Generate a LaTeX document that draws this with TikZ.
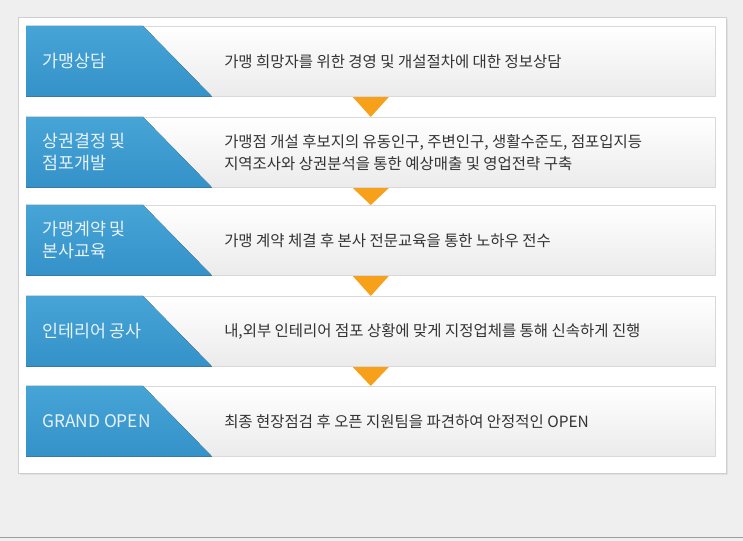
\documentclass[tikz,border=0pt]{standalone}
\usepackage{fontspec}
\setmainfont{Noto Sans CJK KR}
\usetikzlibrary{calc}

\definecolor{pagegray}{HTML}{EFEFEF}
\definecolor{panelline}{HTML}{CFCFCF}
\definecolor{rowline}{HTML}{D9D9D9}
\definecolor{rowgray}{HTML}{EBEBEB}
\definecolor{tabtop}{HTML}{46A4D6}
\definecolor{tabbottom}{HTML}{3592C9}
\definecolor{tabtext}{HTML}{E8F2F9}
\definecolor{desctext}{HTML}{333333}
\definecolor{steporange}{HTML}{F7A11B}

\tikzset{
  rowbox/.style={draw=rowline, top color=white, bottom color=rowgray,
    minimum width=516.75pt, minimum height=52.5pt, inner sep=0pt, anchor=north west},
  tabfill/.style={top color=tabtop, bottom color=tabbottom, draw=none},
  tablabel/.style={anchor=west, inner sep=0pt, align=left, text=tabtext,
    font=\fontsize{13}{16.5}\selectfont},
  desc/.style={anchor=west, inner sep=0pt, align=left, text=desctext,
    font=\fontsize{11.6}{16.5}\selectfont},
  steptri/.style={fill=steporange, draw=none}
}

\begin{document}
\begin{tikzpicture}[x=0.75pt,y=-0.75pt]
  % Page background and white panel
  \fill[pagegray] (0,0) rectangle (743,541);
  \useasboundingbox (0,0) rectangle (743,541);
  \draw[gray!75,line width=1.1pt] (0,537.5) -- (743,537.5);
  \fill[black!12] (20,19) rectangle (728,475);
  \draw[panelline,fill=white] (18,17) rectangle (726,473);

  % Rows
  \node[rowbox] (r1) at (26,26)  {};
  \node[rowbox] (r2) at (26,117) {};
  \node[rowbox] (r3) at (26,205) {};
  \node[rowbox] (r4) at (26,296) {};
  \node[rowbox] (r5) at (26,386) {};

  % Blue tabs on the left of each row
  \foreach \r in {r1,r2,r3,r4,r5}{
    \fill[tabfill] (\r.north west) -- ($(\r.north west)+(117,0)$)
      -- ($(\r.south west)+(186,0)$) -- (\r.south west) -- cycle;
  }

  % Step labels
  \node[tablabel] (l1) at ($(r1.west)+(16,0)$) {가맹상담};
  \node[tablabel] (l2) at ($(r2.west)+(16,0)$) {상권결정 및\\점포개발};
  \node[tablabel] (l3) at ($(r3.west)+(16,0)$) {가맹계약 및\\본사교육};
  \node[tablabel] (l4) at ($(r4.west)+(16,0)$) {인테리어 공사};
  \node[tablabel] (l5) at ($(r5.west)+(16,0)$) {GRAND OPEN};

  % Descriptions
  \node[desc] (d1) at ($(r1.west)+(198,0)$) {가맹 희망자를 위한 경영 및 개설절차에 대한 정보상담};
  \node[desc] (d2) at ($(r2.west)+(198,0)$) {가맹점 개설 후보지의 유동인구, 주변인구, 생활수준도, 점포입지등\\지역조사와 상권분석을 통한 예상매출 및 영업전략 구축};
  \node[desc] (d3) at ($(r3.west)+(198,0)$) {가맹 계약 체결 후 본사 전문교육을 통한 노하우 전수};
  \node[desc] (d4) at ($(r4.west)+(198,0)$) {내,외부 인테리어 점포 상황에 맞게 지정업체를 통해 신속하게 진행};
  \node[desc] (d5) at ($(r5.west)+(198,0)$) {최종 현장점검 후 오픈 지원팀을 파견하여 안정적인 OPEN};

  % Orange step markers between rows
  \fill[steptri] ($(r1.south)+(-18,0.5)$) -- ($(r1.south)+(18,0.5)$) -- (r2.north) -- cycle;
  \fill[steptri] ($(r2.south)+(-18,0.5)$) -- ($(r2.south)+(18,0.5)$) -- (r3.north) -- cycle;
  \fill[steptri] ($(r3.south)+(-18,0.5)$) -- ($(r3.south)+(18,0.5)$) -- (r4.north) -- cycle;
  \fill[steptri] ($(r4.south)+(-18,0.5)$) -- ($(r4.south)+(18,0.5)$) -- (r5.north) -- cycle;
\end{tikzpicture}
\end{document}
